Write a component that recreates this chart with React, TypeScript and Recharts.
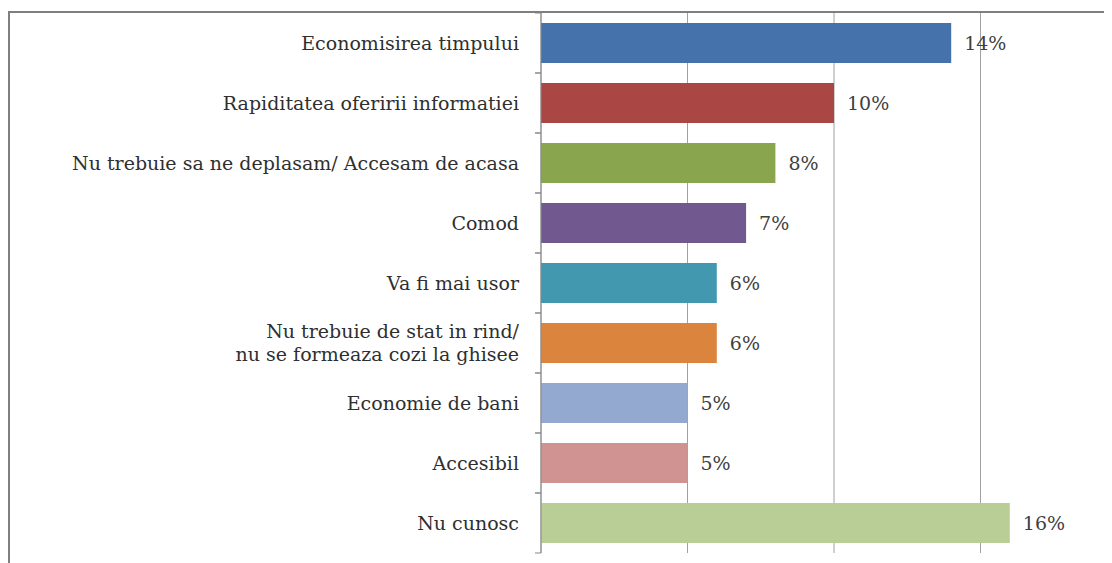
import { BarChart, Bar, XAxis, YAxis, Cell, LabelList, CartesianGrid } from "recharts";

const categories = [
  "Economisirea timpului",
  "Rapiditatea oferirii informatiei",
  "Nu trebuie sa ne deplasam/ Accesam de acasa",
  "Comod",
  "Va fi mai usor",
  "Nu trebuie de stat in rind/\nnu se formeaza cozi la ghisee",
  "Economie de bani",
  "Accesibil",
  "Nu cunosc",
];
const values = [14, 10, 8, 7, 6, 6, 5, 5, 16];
const colors = [
  "#4672AB",
  "#AA4643",
  "#89A54E",
  "#71588F",
  "#4198AF",
  "#DB843D",
  "#93A9CF",
  "#D19392",
  "#B9CD96",
];
const xTicks = [0, 5, 10, 15, 20];

const data = categories.map((name, i) => ({ name, value: values[i] }));

const FONT = "'DejaVu Serif', serif";

function CategoryTick(props: any) {
  const { x, y, payload } = props;
  const lines = String(payload.value).split("\n");
  const lh = 23;
  const start = y - ((lines.length - 1) * lh) / 2;
  return (
    <g>
      <line x1={x + 16} x2={x + 22} y1={y - 30} y2={y - 30} stroke="#888" />
      <line x1={x + 16} x2={x + 22} y1={y + 30} y2={y + 30} stroke="#888" />
      <text x={x} y={start} textAnchor="end" fill="#2f2f2f" fontFamily={FONT} fontSize={19}>
        {lines.map((l, i) => (
          <tspan key={i} x={x} y={start + i * lh} dy="0.35em">
            {l}
          </tspan>
        ))}
      </text>
    </g>
  );
}

export default function App() {
  return (
    <div style={{ width: 1104, height: 555, overflow: "hidden" }}>
      <div
        style={{
          marginTop: 3,
          width: 1200,
          height: 600,
          borderTop: "2px solid #7f7f7f",
          borderLeft: "2px solid #7f7f7f",
        }}
      >
        <BarChart
          width={1117}
          height={556}
          data={data}
          layout="vertical"
          margin={{ top: 0, right: 0, bottom: 16, left: 0 }}
          barCategoryGap={10}
        >
          <CartesianGrid horizontal={false} stroke="#a0a0a0" />
          <XAxis type="number" domain={[0, 20]} ticks={xTicks} hide />
          <YAxis
            type="category"
            dataKey="name"
            width={531}
            tick={<CategoryTick />}
            tickLine={false}
            tickMargin={16}
            axisLine={{ stroke: "#888" }}
            interval={0}
          />
          <Bar dataKey="value" isAnimationActive={false}>
            {data.map((d, i) => (
              <Cell key={d.name} fill={colors[i]} />
            ))}
            <LabelList
              dataKey="value"
              position="right"
              offset={13}
              formatter={(v: any) => `${v}%`}
              fill="#404040"
              fontFamily={FONT}
              fontSize={19}
            />
          </Bar>
        </BarChart>
      </div>
    </div>
  );
}
